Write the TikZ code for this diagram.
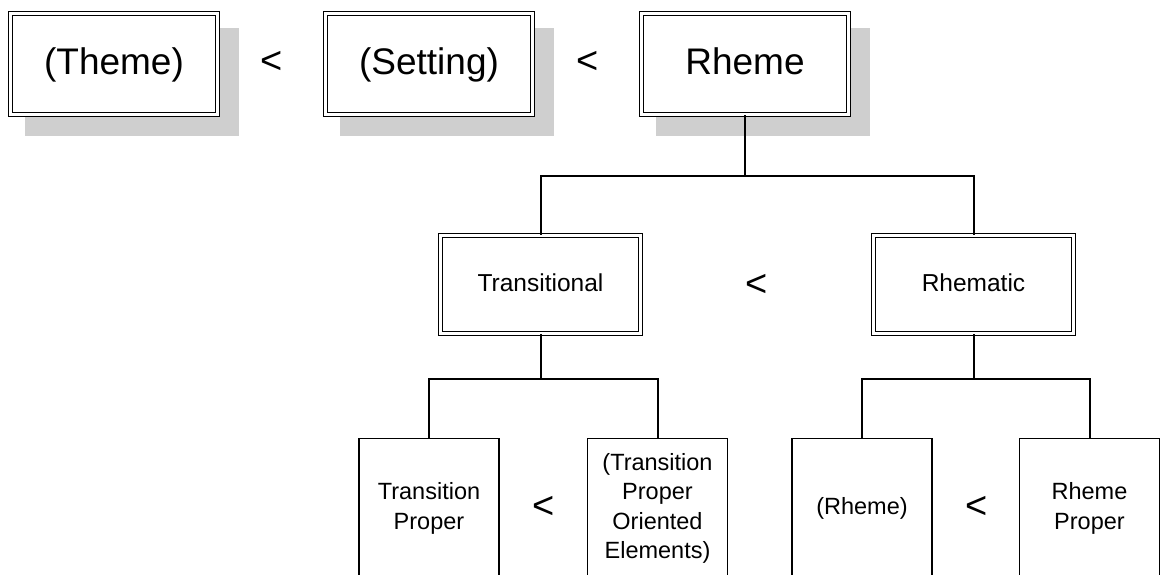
\documentclass[tikz,border=0pt]{standalone}
\usepackage{fontspec}
\setmainfont{Liberation Sans}
\usetikzlibrary{backgrounds}
\begin{document}
\begin{tikzpicture}[x=1pt,y=-1pt,
  dbl/.style={draw=black, fill=white, line width=1.2pt, double=white, double distance=2.4pt, rectangle, inner sep=0pt, align=center},
  topbox/.style={dbl, minimum width=207.2pt, minimum height=101.2pt, text height=27pt, text depth=5pt, font=\fontsize{37}{44}\selectfont},
  midbox/.style={dbl, minimum width=200.2pt, minimum height=98.2pt, text height=18pt, text depth=3.6pt, font=\fontsize{24.5}{29}\selectfont},
  leafbox/.style={draw=black, fill=white, line width=1.3pt, rectangle, inner sep=0pt, align=center, minimum width=140pt, minimum height=140pt, anchor=north, font=\fontsize{23.5}{29.5}\selectfont},
  lt/.style={inner sep=0pt, font=\fontsize{38}{44}\selectfont},
  conn/.style={line width=2pt},
  shadowfill/.style={fill=black!19}
]
\useasboundingbox (0,0) rectangle (1167,575);
\clip (0,0) rectangle (1167,575);
% top row
\node[topbox] (th) at (114,64) {(Theme)};
\node[topbox] (se) at (429,64) {(Setting)};
\node[topbox] (rh) at (745,64) {Rheme};
\node[lt] (lt1) at (272,62) {<};
\node[lt] (lt2) at (588,62) {<};
\begin{scope}[on background layer]
  \foreach \n in {th,se,rh}{
    \fill[shadowfill] ([shift={(15.6,15.1)}]\n.north west) rectangle ([shift={(20.4,20.4)}]\n.south east);
  }
\end{scope}
% middle row
\node[midbox] (tr) at (540.5,284.5) {Transitional};
\node[midbox] (rt) at (973.5,284.5) {Rhematic};
\node[lt] (lt3) at (757,285) {<};
% leaves
\node[leafbox] (tp) at (429,438) {Transition\\Proper};
\node[leafbox] (tpo) at (657.5,438) {(Transition\\Proper\\Oriented\\Elements)};
\node[leafbox] (rr) at (862,438) {(Rheme)};
\node[leafbox] (rp) at (1089.5,438) {Rheme\\Proper};
\node[lt] (lt4) at (544,507) {<};
\node[lt] (lt5) at (977,507) {<};
% connectors
\coordinate (bar1) at (0,176);
\coordinate (bar2) at (0,379);
\draw[conn] (rh.south) -- (rh.south |- bar1);
\draw[conn] (tr.north) |- (rt.north |- bar1) -- (rt.north);
\draw[conn] (tr.south) -- (tr.south |- bar2);
\draw[conn] (tp.north) |- (tpo.north |- bar2) -- (tpo.north);
\draw[conn] (rt.south) -- (rt.south |- bar2);
\draw[conn] (rr.north) |- (rp.north |- bar2) -- (rp.north);
\end{tikzpicture}
\end{document}
